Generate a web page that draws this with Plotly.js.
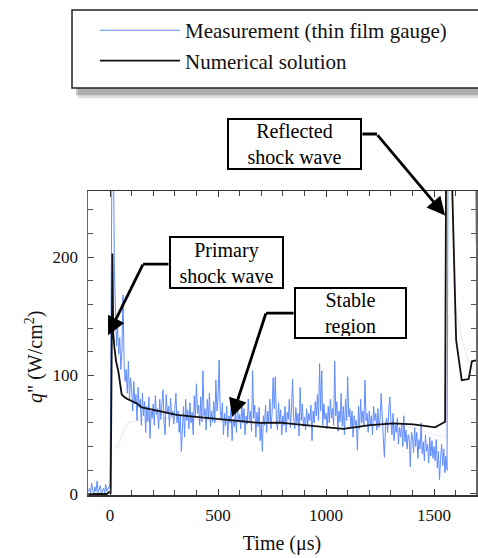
<!DOCTYPE html>
<html><head><meta charset="utf-8">
<script src="https://cdn.plot.ly/plotly-3.0.1.min.js"></script>
<style>html,body{margin:0;padding:0;background:#fff;}#chart{width:478px;height:558px;}</style>
</head><body><div id="chart"></div>
<script>
// ---- data ----
const seriesNames = ['Measurement (thin film gauge)', 'Numerical solution'];
// measurement sampled every 5 µs starting at -100 µs
const measStartUs = -100;
const measStepUs = 5;
const measValues = [
  2,5,1,9,3,0,6,2,11,1,4,7,0,3,5,1,8,2,4,6,
  8,150,330,310,190,150,125,140,118,132,105,120,168,110,95,105,85,112,80,98,
  88,70,95,76,84,62,90,73,80,58,85,66,78,52,74,61,82,47,70,64,
  76,58,83,67,72,55,80,63,74,88,61,50,84,68,74,57,81,65,70,59,
  72,85,60,70,52,66,36,58,74,48,80,62,71,55,77,60,69,50,83,66,
  93,68,75,58,82,61,104,66,72,54,80,63,85,57,70,61,78,60,96,70,
  80,113,70,62,77,50,68,58,74,48,66,60,72,45,63,57,70,52,76,61,
  67,55,78,60,72,50,66,59,80,62,70,53,104,64,75,48,69,57,73,45,
  60,36,66,58,75,52,70,61,80,55,68,98,72,99,63,54,77,60,71,50,
  66,58,74,52,69,63,80,56,71,97,64,55,73,60,68,49,90,62,76,57,
  65,54,72,58,68,62,75,45,70,60,78,66,84,62,110,70,104,58,76,63,
  68,55,74,60,80,64,72,58,112,66,78,53,70,61,85,57,74,50,80,62,
  99,65,72,56,70,48,66,58,62,37,74,55,80,60,70,58,96,62,68,52,
  70,58,66,50,74,62,68,54,72,56,63,85,60,47,31,58,64,52,70,82,
  62,50,68,45,58,52,64,42,56,48,60,40,66,44,54,38,50,46,23,52,
  48,35,56,40,52,30,46,38,60,34,44,28,50,36,42,26,48,32,45,30,
  40,28,46,22,36,12,30,42,24,38,18,32,
  20,300,340,320,310,330,300,320,340,310,330,320,300,340,320,310,330,300,320,340,310,330,320,300,330,310,320,212
];
const numTime = [-100,-15,-5,3,11,15,20,28,38,46,54,65,77,100,123,147,216,262,309,386,463,569,694,787,880,972,1080,1142,1204,1312,1404,1505,1551,1556,1578,1602,1628,1660,1675,1700];
const numValues = [0,0,1.5,1,203,135,124,112,104,92,84,82,80.5,78.5,76.5,73,70.3,68.6,66.7,65.2,63.8,61.9,60,60.2,58.8,56.8,54.9,56.3,58.2,59.6,58.8,56.3,61,300,300,130,96,97,112,113];
// faint background curve visible in the reference
const ghostTime = [20,35,55,80,120,200,300,400,500,600,700,800,900,1000,1100,1200,1300,1400,1500,1555,1565,1600,1630,1660,1700];
const ghostValues = [42,38,50,60,62,63,64,63,61,60,61,62,64,65,63,62,60,56,50,48,150,155,130,112,100];
const xTickVals = [0, 500, 1000, 1500];
const yTickVals = [0, 100, 200];

const measTime = measValues.map((_, i) => measStartUs + i * measStepUs);

const serif = "'Liberation Serif', 'Times New Roman', serif";

const traces = [
  {x: ghostTime, y: ghostValues, mode: 'lines', showlegend: false, hoverinfo: 'skip',
   line: {color: 'rgba(235,200,240,0.55)', width: 1}},
  {x: measTime, y: measValues, mode: 'lines', name: seriesNames[0], legendgroup: 'a',
   line: {color: 'rgb(95,140,255)', width: 1}},
  {x: numTime, y: numValues, mode: 'lines', name: seriesNames[1], legendgroup: 'b',
   line: {color: '#111', width: 1.8}}
];

const arrowStyle = {showarrow: true, arrowcolor: '#000', arrowwidth: 2.8, text: '',
  xref: 'x', yref: 'y', axref: 'x', ayref: 'y', borderpad: 0};
const boxStyle = {showarrow: false, xref: 'x', yref: 'y', bgcolor: '#fff', bordercolor: '#000',
  borderwidth: 2, borderpad: 1, font: {family: serif, size: 20, color: '#000'}, align: 'center',
  xanchor: 'center', yanchor: 'middle'};

const annotations = [
  {text: '<i>q</i>" (W/cm<sup>2</sup>)', xref: 'paper', yref: 'paper', x: -0.1366, y: 0.454,
   textangle: -90, showarrow: false, xanchor: 'center', yanchor: 'middle',
   font: {family: serif, size: 20, color: '#111'}},
  // Primary shock wave
  Object.assign({}, boxStyle, {text: 'Primary<br>shock wave', x: 539, y: 195, width: 109, height: 47}),
  Object.assign({}, arrowStyle, {x: 153, y: 194, ax: 273, ay: 194, arrowhead: 0}),
  Object.assign({}, arrowStyle, {x: -9, y: 134, ax: 153, ay: 194, arrowhead: 2, arrowsize: 1.3}),
  // Stable region
  Object.assign({}, boxStyle, {text: 'Stable<br>region', x: 1113, y: 153, width: 107, height: 46}),
  Object.assign({}, arrowStyle, {x: 722, y: 152.7, ax: 852, ay: 152.7, arrowhead: 0}),
  Object.assign({}, arrowStyle, {x: 565, y: 65, ax: 722, ay: 152.7, arrowhead: 2, arrowsize: 1.3}),
  // Reflected shock wave (box sits above the plot area, so it is placed on the paper)
  Object.assign({}, boxStyle, {text: 'Reflected<br>shock wave', xref: 'paper', yref: 'paper',
    x: 0.5322, y: 1.153, width: 129, height: 46}),
  {showarrow: true, arrowcolor: '#000', arrowwidth: 2.8, text: '', borderpad: 0, arrowhead: 0,
   xref: 'paper', yref: 'paper', x: 0.7448, y: 1.1875, ax: -15, ay: 0},
  {showarrow: true, arrowcolor: '#000', arrowwidth: 2.8, text: '', borderpad: 0, arrowhead: 2,
   arrowsize: 1.3, xref: 'x', yref: 'y', x: 1551, y: 235, ax: -68, ay: -81}
];

const shapes = [
  // legend shadow
  {type: 'rect', xref: 'paper', yref: 'paper', x0: -0.026, x1: 1.05, y0: 1.305, y1: 1.56,
   fillcolor: 'rgba(0,0,0,0.12)', line: {width: 0}, layer: 'below'},
  {type: 'rect', xref: 'paper', yref: 'paper', x0: -0.031, x1: 1.05, y0: 1.315, y1: 1.56,
   fillcolor: 'rgba(0,0,0,0.22)', line: {width: 0}, layer: 'below'},
  // legend frame
  {type: 'rect', xref: 'paper', yref: 'paper', x0: -0.0412, x1: 1.05, y0: 1.3388, y1: 1.5954,
   fillcolor: '#fff', line: {color: '#222', width: 1.5}, layer: 'below'}
];

const layout = {
  width: 478, height: 558,
  margin: {l: 88, r: 2, t: 191, b: 63, pad: 0},
  paper_bgcolor: '#fff', plot_bgcolor: 'rgba(0,0,0,0)',
  showlegend: true,
  legend: {x: 0.018, y: 1.595, xanchor: 'left', yanchor: 'top', bgcolor: 'rgba(0,0,0,0)',
    borderwidth: 0, itemwidth: 80, traceorder: 'grouped', tracegroupgap: 0,
    font: {family: serif, size: 21, color: '#111'}},
  xaxis: {range: [-102, 1694], tickvals: xTickVals, ticks: 'inside', ticklen: 6, tickwidth: 1,
    tickcolor: '#333', showline: true, linecolor: '#333', linewidth: 1.5, mirror: 'ticks',
    showgrid: false, zeroline: false, ticklabelstandoff: 4,
    minor: {dtick: 100, ticks: 'inside', ticklen: 5, tickcolor: '#444', showgrid: false},
    tickfont: {family: serif, size: 17, color: '#111'},
    title: {text: 'Time (μs)', standoff: 12, font: {family: serif, size: 20, color: '#111'}}},
  yaxis: {range: [-0.85, 255.7], tickvals: yTickVals, ticks: 'inside', ticklen: 6, tickwidth: 1,
    tickcolor: '#444', showline: true, linecolor: '#666', linewidth: 1.5, mirror: 'ticks',
    showgrid: false, zeroline: false, ticklabelstandoff: 5,
    minor: {dtick: 20, ticks: 'inside', ticklen: 5, tickcolor: '#555', showgrid: false},
    tickfont: {family: serif, size: 17, color: '#111'}},
  annotations: annotations,
  shapes: shapes
};

Plotly.newPlot('chart', traces, layout, {displayModeBar: false, staticPlot: true});
</script></body></html>
